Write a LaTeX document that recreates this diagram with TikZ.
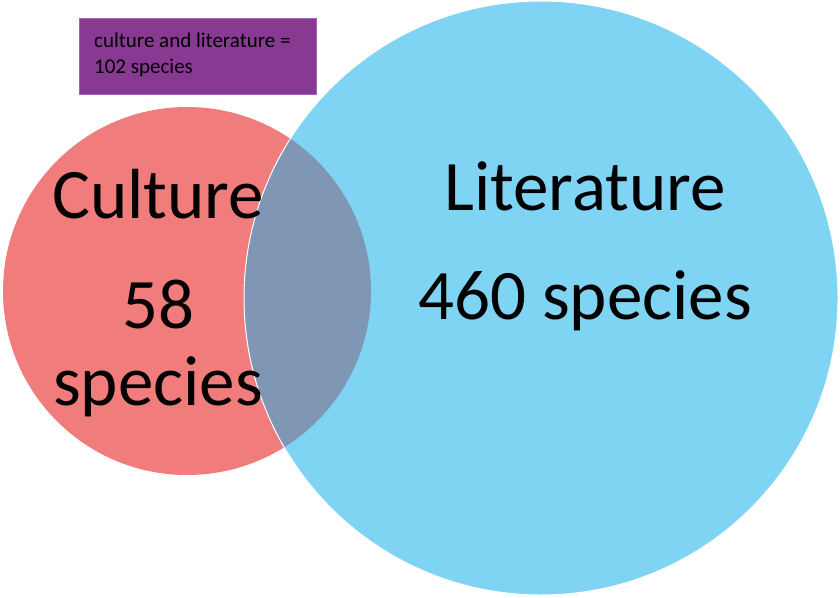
\documentclass[tikz,border=0pt]{standalone}
\usepackage{fontspec}
\setmainfont{Carlito}
\usetikzlibrary{positioning}
\definecolor{culturered}{RGB}{240,124,124}
\definecolor{litblue}{RGB}{127,211,243}
\definecolor{overlapgrey}{RGB}{127,151,181}
\definecolor{notepurple}{RGB}{136,57,145}
\definecolor{noteedge}{RGB}{160,100,180}
\begin{document}
\begin{tikzpicture}[x=1pt, y=-1pt,
    bigtext/.style={font=\fontsize{71}{85}\selectfont, anchor=base, inner sep=0pt},
    notetext/.style={font=\fontsize{21}{25}\selectfont, anchor=base west, inner sep=0pt},
    notebox/.style={fill=notepurple, draw=noteedge, line width=0.8pt, minimum width=237pt,
        minimum height=76pt, anchor=north west, inner sep=0pt}]
    % Canvas in pixels of the original
    \useasboundingbox (0,0) rectangle (840,597);
    % Circle centres and radii
    \def\rcult{184pt}
    \def\rlit{297pt}
    \coordinate (culturecentre) at (187,291);
    \coordinate (litcentre) at (541,298);
    % Circles
    \fill[culturered] (culturecentre) circle (\rcult);
    \fill[litblue] (litcentre) circle (\rlit);
    % Overlap
    \begin{scope}
        \clip (culturecentre) circle (\rcult);
        \fill[overlapgrey] (litcentre) circle (\rlit);
    \end{scope}
    \draw[white, line width=1pt] (litcentre) circle (\rlit);
    % Labels
    \node[bigtext] (culture) at (158,218) {Culture};
    \node[bigtext] (culturecount) at (158,328) {58};
    \node[bigtext] (culturespecies) at (158,405) {species};
    \node[bigtext] (literature) at (585,210) {Literature};
    \node[bigtext] (litcount) at (585,319) {460 species};
    % Note box
    \node[notebox] (note) at (79,18) {};
    \node[notetext] (noteline) at (94,47) {culture and literature =};
    \node[notetext] (notecount) at (94,73) {102 species};
\end{tikzpicture}
\end{document}
